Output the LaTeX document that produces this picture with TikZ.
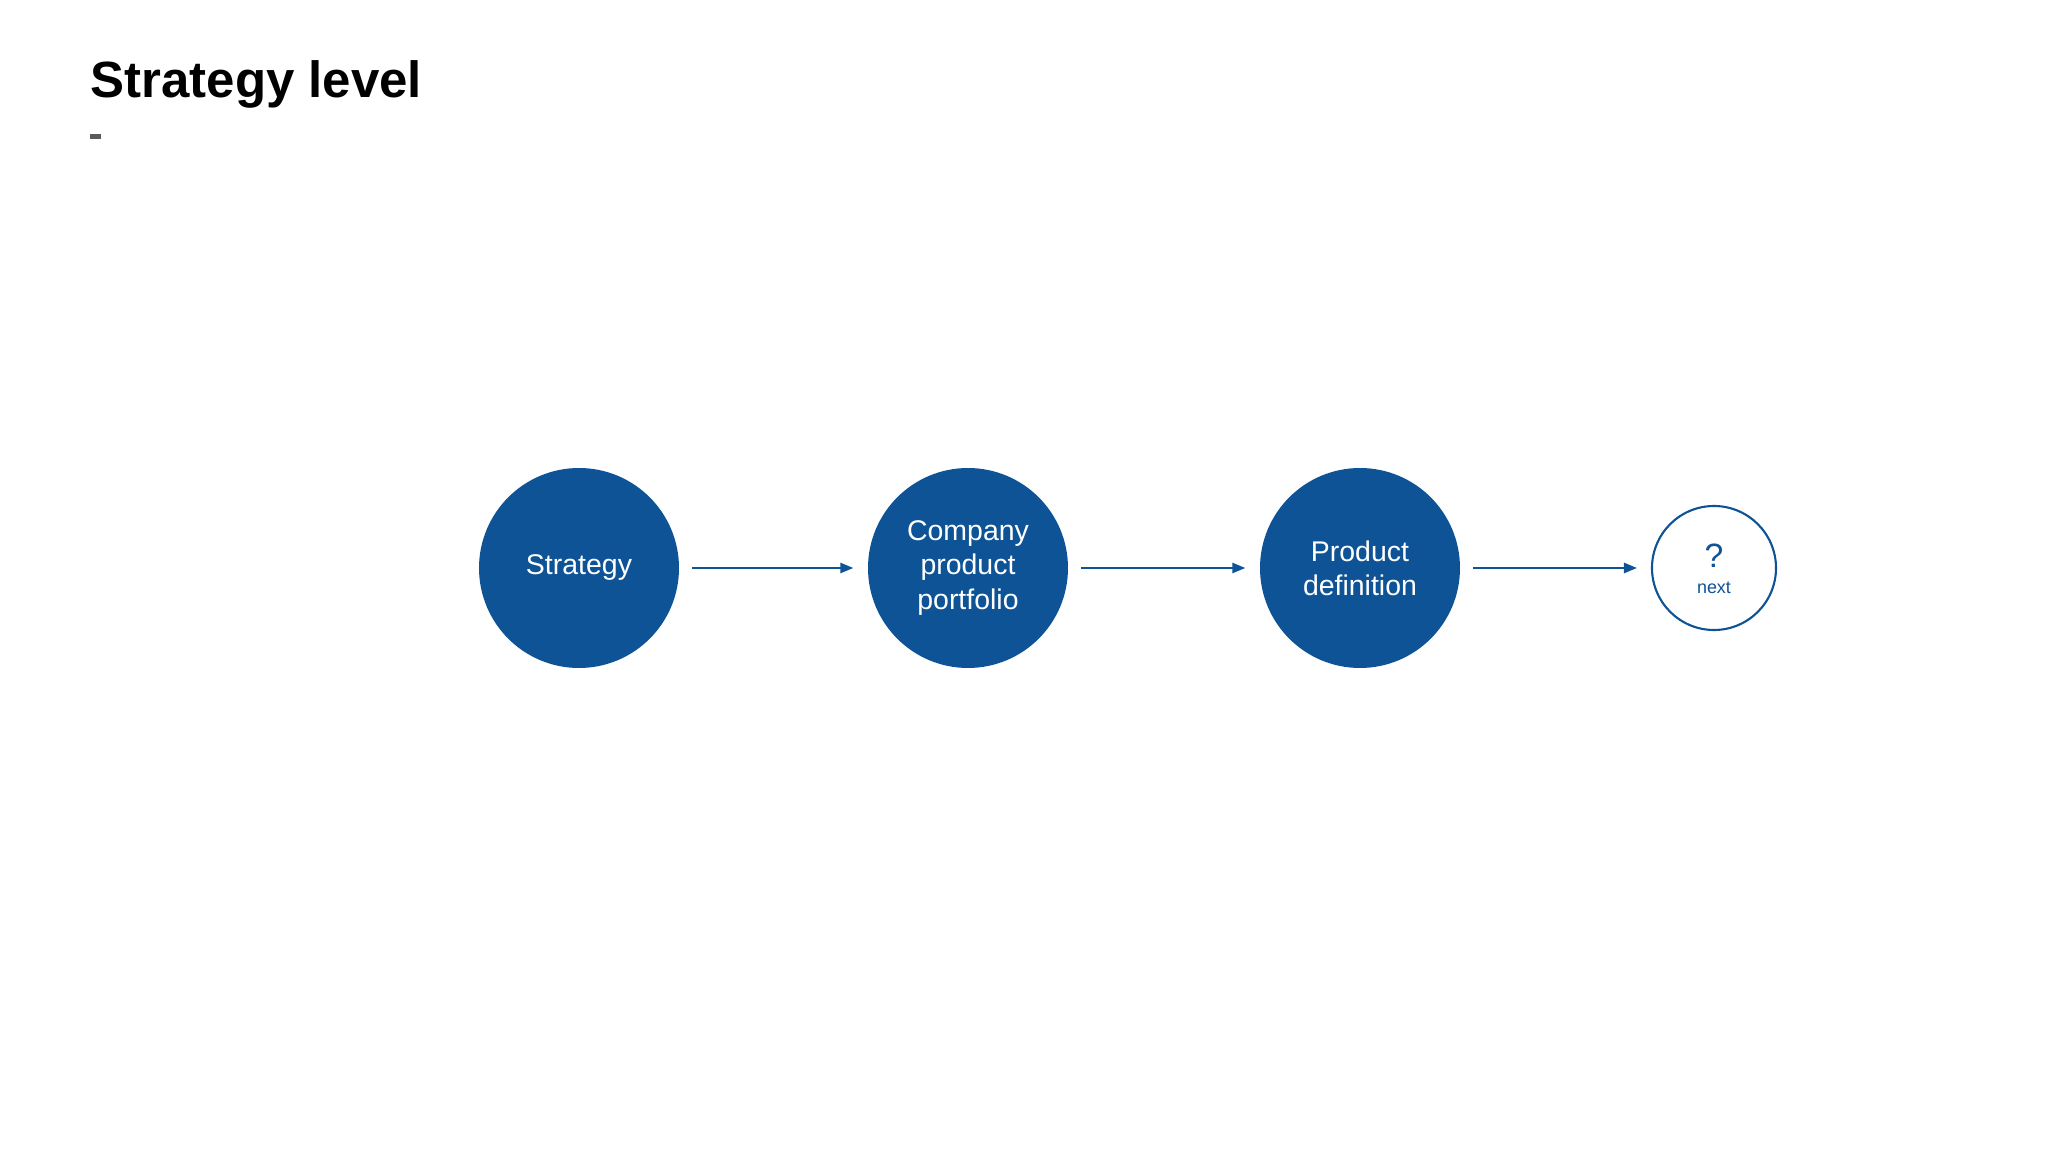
\documentclass[tikz,border=0pt]{standalone}
\usepackage{fontspec}
\setmainfont{Liberation Sans}
\usepackage{tikz}
\usetikzlibrary{arrows.meta,positioning}
\usepackage{xcolor}
\definecolor{stepcol}{RGB}{14,83,150}
\definecolor{dashcol}{RGB}{90,90,90}
\tikzset{
  % filled step circle
  fcircle/.style={circle, fill=stepcol, text=white, minimum size=2cm, inner sep=0pt,
                  align=center, font=\fontsize{8.1}{9.7}\selectfont},
  % open circle for the next step
  ocircle/.style={circle, draw=stepcol, line width=0.6pt, minimum size=1.24cm, inner sep=0pt},
  % flow arrow
  flowarrow/.style={-{Triangle[length=3.7pt,width=2.9pt]}, stepcol, line width=0.6pt,
                    shorten <=0.12cm, shorten >=0.14cm},
}

\begin{document}
\begin{tikzpicture}
  \useasboundingbox (0,0) rectangle (20.48,-11.52);
  % title
  \node[anchor=base west, inner sep=0pt, font=\fontsize{14.5}{16}\selectfont\bfseries] (title) at (0.90,-0.98) {Strategy level};
  \draw[dashcol, line width=1.4pt] (0.90,-1.365) -- (1.01,-1.365);
  % steps
  \node[fcircle] (strat) at (5.79,-5.68) {Strategy};
  \node[fcircle] (port) at (9.68,-5.68) {Company\\product\\portfolio};
  \node[fcircle] (pdef) at (13.60,-5.68) {Product\\definition};
  \node[ocircle] (nxt) at (17.14,-5.68) {};
  \node[text=stepcol, inner sep=0pt, anchor=base, font=\fontsize{9.6}{10}\selectfont] (qmark) at (17.14,-5.68) {?};
  \node[text=stepcol, inner sep=0pt, anchor=base, font=\fontsize{5.1}{6}\selectfont] (nxtlbl) at (17.14,-5.935) {next};
  % arrows
  \draw[flowarrow] (strat) -- (port);
  \draw[flowarrow] (port) -- (pdef);
  \draw[flowarrow] (pdef) -- (nxt);
\end{tikzpicture}
\end{document}
